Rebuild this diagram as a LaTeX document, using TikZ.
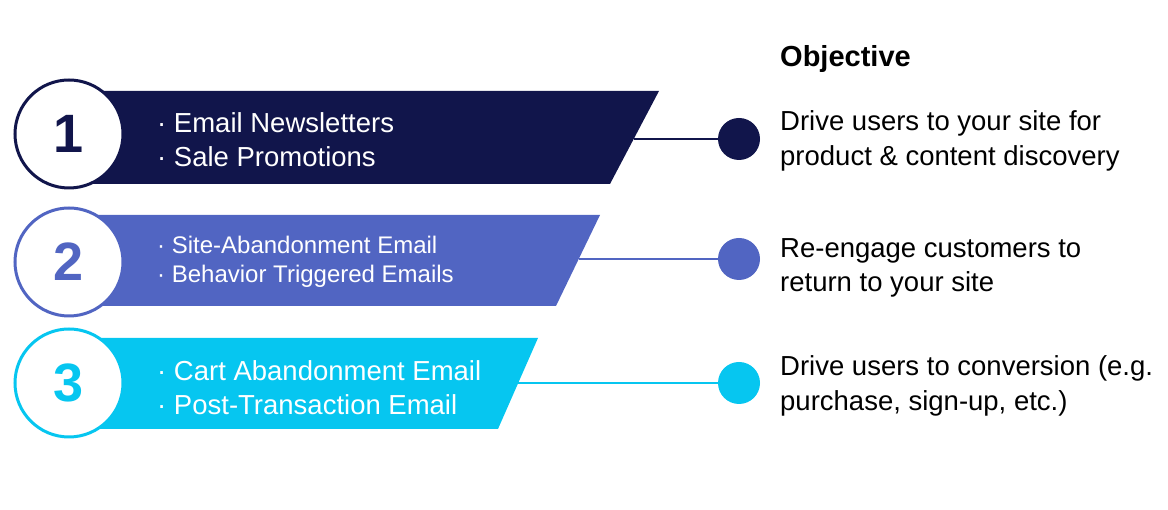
\documentclass[tikz,border=0pt]{standalone}
\usepackage{fontspec}
\setmainfont{Liberation Sans}
\definecolor{cnavy}{RGB}{17,21,75}
\definecolor{cblue}{RGB}{81,101,194}
\definecolor{ccyan}{RGB}{6,198,240}
\begin{document}
\begin{tikzpicture}[x=1pt,y=1pt,
  numcirc/.style={circle,minimum size=108pt,inner sep=0pt,line width=3pt,fill=white,font=\fontsize{54}{60}\selectfont\bfseries},
  dotnode/.style={circle,minimum size=42pt,inner sep=0pt},
  bandtext/.style={anchor=west,align=left,text=white,inner sep=0pt},
  objtext/.style={anchor=west,align=left,text=black,inner sep=0pt,font=\fontsize{27.5}{34.5}\selectfont},
  link/.style={line width=1.6pt}]
\useasboundingbox (0,0) rectangle (1168,510);
% bands
\fill[cnavy] (69,419) -- (659,419) -- (610,326) -- (69,326) -- cycle;
\fill[cblue] (69,295) -- (600,295) -- (556,204) -- (69,204) -- cycle;
\fill[ccyan] (69,172) -- (538,172) -- (498,81) -- (69,81) -- cycle;
% circles
\node[numcirc,draw=cnavy,text=cnavy] (c1) at (69,376) {1};
\node[numcirc,draw=cblue,text=cblue] (c2) at (69,248) {2};
\node[numcirc,draw=ccyan,text=ccyan] (c3) at (69,127) {3};
% band texts
\node[bandtext,font=\fontsize{27.5}{34}\selectfont] (t1) at (157,370) {· Email Newsletters\\· Sale Promotions};
\node[bandtext,font=\fontsize{24}{29}\selectfont] (t2) at (157,248) {· Site-Abandonment Email\\· Behavior Triggered Emails};
\node[bandtext,font=\fontsize{27.5}{34}\selectfont] (t3) at (157,122) {· Cart Abandonment Email\\· Post-Transaction Email};
% connector start points
\coordinate (e1) at (633.5,371);
\coordinate (e2) at (578.7,251);
\coordinate (e3) at (518,127);
% dots
\node[dotnode,fill=cnavy] (d1) at (739,371) {};
\node[dotnode,fill=cblue] (d2) at (739,251) {};
\node[dotnode,fill=ccyan] (d3) at (739,127) {};
\draw[link,cnavy] (e1) -- (d1);
\draw[link,cblue] (e2) -- (d2);
\draw[link,ccyan] (e3) -- (d3);
% objective
\node[objtext,font=\fontsize{29}{34}\selectfont\bfseries] (obj) at (780,451) {Objective};
\node[objtext] (o1) at (780,369) {Drive users to your site for\\product \& content discovery};
\node[objtext] (o2) at (780,242) {Re-engage customers to\\return to your site};
\node[objtext] (o3) at (780,124) {Drive users to conversion (e.g.\\purchase, sign-up, etc.)};
\end{tikzpicture}
\end{document}
